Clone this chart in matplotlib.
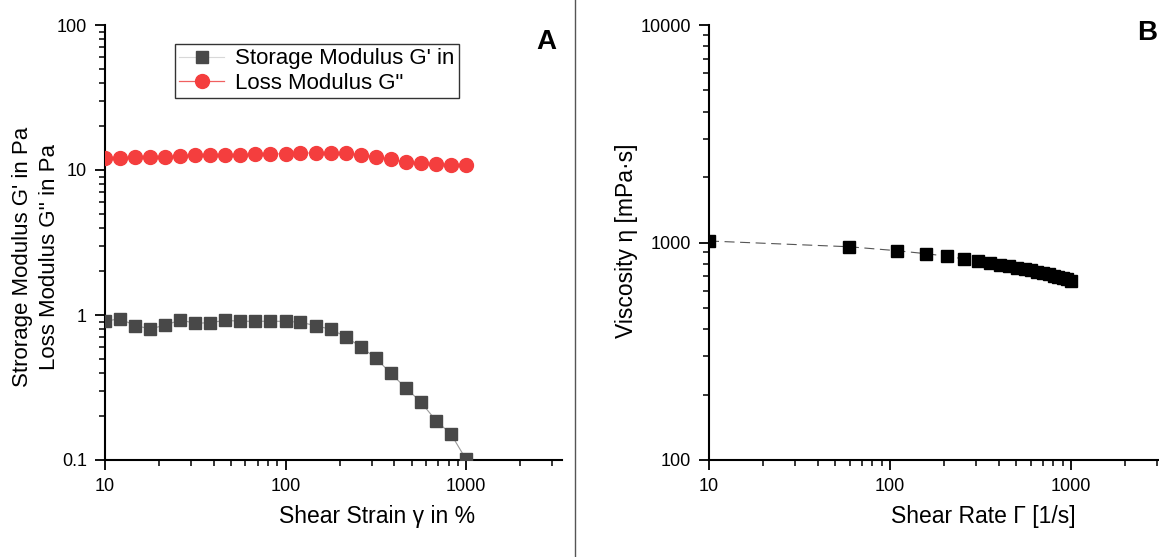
import matplotlib
matplotlib.use("Agg")
import matplotlib.pyplot as plt
from matplotlib.ticker import LogLocator, NullFormatter, FixedLocator, FixedFormatter
from matplotlib.lines import Line2D

plt.rcParams['font.family'] = ['Liberation Sans', 'DejaVu Sans']

# ---- Data panel A ----
strain = [10, 12.1, 14.7, 17.8, 21.5, 26.1, 31.6, 38.3, 46.4, 56.2, 68.1, 82.5,
          100, 121, 147, 178, 215, 261, 316, 383, 464, 562, 681, 825, 1000]
storage_G1 = [0.905, 0.943, 0.844, 0.804, 0.849, 0.924, 0.877, 0.885, 0.919, 0.905,
              0.905, 0.905, 0.905, 0.891, 0.844, 0.797, 0.709, 0.604, 0.505, 0.396,
              0.314, 0.251, 0.187, 0.151, 0.101]
loss_G2 = [12.04, 12.10, 12.24, 12.35, 12.35, 12.49, 12.63, 12.63, 12.69, 12.75,
           12.83, 12.89, 12.95, 13.10, 13.10, 13.10, 13.04, 12.75, 12.35, 11.85,
           11.36, 11.13, 11.00, 10.88, 10.77]

# ---- Data panel B ----
shear_rate = [10, 59.5, 109, 158.5, 208, 257.5, 307, 356.5, 406, 455.5, 505, 554.5,
              604, 653.5, 703, 752.5, 802, 851.5, 901, 950.5, 1000]
viscosity = [1016, 956, 917, 888, 864, 840, 825, 802, 786, 776, 765, 754,
             744, 734, 724, 714, 704, 694, 685, 676, 666]

left_yticks = [0.1, 1, 10, 100]
left_ylabels = ['0.1', '1', '10', '100']
right_yticks = [100, 1000, 10000]
right_ylabels = ['100', '1000', '10000']
xticks = [10, 100, 1000]
xlabels = ['10', '100', '1000']

W, H = 1159, 557
fig = plt.figure(figsize=(W / 100, H / 100), dpi=100)

axA = fig.add_axes([105 / W, (H - 460) / H, (562 - 105) / W, 435 / H])
axB = fig.add_axes([709 / W, (H - 460) / H, (1167 - 709) / W, 435 / H])

sq_color = '#484848'
red = '#f43e3e'

axA.plot(strain, storage_G1, color='#9a9a9a', lw=0.8, marker='s', ms=8.5,
         mfc=sq_color, mec=sq_color, zorder=3)
axA.plot(strain, loss_G2, color='#f08a8a', lw=0.9, marker='o', ms=10,
         mfc=red, mec=red, zorder=3)

axB.plot(shear_rate, viscosity, color='#555555', lw=0.8, ls=(0, (9, 5)),
         marker='s', ms=8, mfc='black', mec='black', zorder=3)

for ax, yt, yl, ylim in [(axA, left_yticks, left_ylabels, (0.1, 100)),
                         (axB, right_yticks, right_ylabels, (100, 10000))]:
    ax.set_xscale('log')
    ax.set_yscale('log')
    ax.set_xlim(10, 3400)
    ax.set_ylim(*ylim)
    ax.spines['top'].set_visible(False)
    ax.spines['right'].set_visible(False)
    ax.spines['left'].set_linewidth(1.5)
    ax.spines['bottom'].set_linewidth(1.5)
    ax.xaxis.set_major_locator(FixedLocator(xticks))
    ax.xaxis.set_major_formatter(FixedFormatter(xlabels))
    ax.xaxis.set_minor_locator(LogLocator(base=10, subs=range(2, 10), numticks=20))
    ax.xaxis.set_minor_formatter(NullFormatter())
    ax.yaxis.set_major_locator(FixedLocator(yt))
    ax.yaxis.set_major_formatter(FixedFormatter(yl))
    ax.yaxis.set_minor_locator(LogLocator(base=10, subs=range(2, 10), numticks=20))
    ax.yaxis.set_minor_formatter(NullFormatter())
    ax.tick_params(which='major', direction='out', length=7, width=1.3,
                   labelsize=13, pad=6, colors='black')
    ax.tick_params(which='minor', direction='out', length=4, width=1.1)

axA.set_xlabel('Shear Strain γ in %', fontsize=16.5)
axA.xaxis.label.set_verticalalignment('center')
axA.xaxis.set_label_coords((377 - 105) / 457, (460 - 517) / 435)

axA.set_ylabel("Strorage Modulus G' in Pa\nLoss Modulus G'' in Pa", fontsize=16,
               linespacing=1.35)
axA.yaxis.label.set_verticalalignment('center')
axA.yaxis.set_label_coords((36 - 105) / 457, (460 - 257) / 435)

axB.set_xlabel('Shear Rate Γ [1/s]', fontsize=16.5)
axB.xaxis.label.set_verticalalignment('center')
axB.xaxis.set_label_coords((983 - 709) / 458, (460 - 517) / 435)

axB.set_ylabel('Viscosity η [mPa·s]', fontsize=16.5)
axB.yaxis.label.set_verticalalignment('center')
axB.yaxis.set_label_coords((627 - 709) / 458, (460 - 241) / 435)

handles = [Line2D([], [], color='#d8d8d8', lw=0.8, marker='s', ms=8.5,
                  mfc=sq_color, mec=sq_color),
           Line2D([], [], color='#f06060', lw=0.9, marker='o', ms=10,
                  mfc=red, mec=red)]
leg = axA.legend(handles, ["Storage Modulus G' in", 'Loss Modulus G"'],
                 loc='upper left', bbox_to_anchor=((175 - 105) / 457, (460 - 44) / 435),
                 fontsize=16, frameon=True, fancybox=False, handlelength=2.0,
                 borderpad=0.2, labelspacing=0.15, handletextpad=0.5,
                 borderaxespad=0)
leg.get_frame().set_edgecolor('black')
leg.get_frame().set_linewidth(1.0)

fig.text(546 / W, 1 - 42 / H, 'A', fontsize=20, fontweight='bold', ha='center', va='center')
fig.text(1147 / W, 1 - 33 / H, 'B', fontsize=20, fontweight='bold', ha='center', va='center')

fig.add_artist(Line2D([575 / W, 575 / W], [0, 1], color='#555555', lw=1.0,
                      transform=fig.transFigure))

fig.savefig('out.png', dpi=100)
